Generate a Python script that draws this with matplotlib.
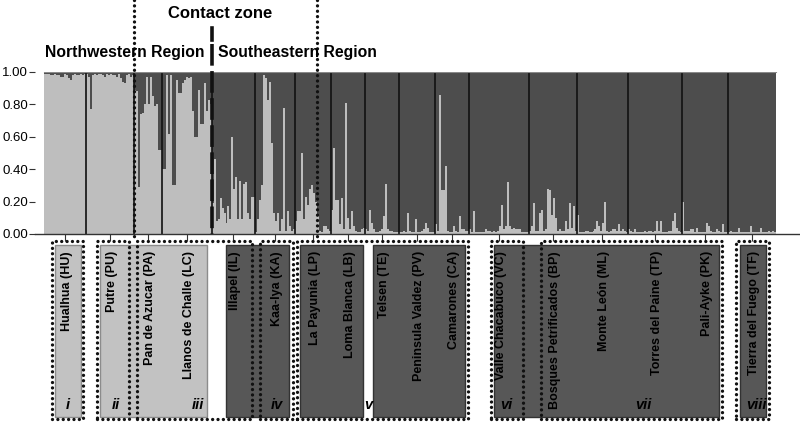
import numpy as np
import matplotlib
matplotlib.use('Agg')
import matplotlib.pyplot as plt
from matplotlib.patches import Rectangle
from matplotlib.lines import Line2D

plt.rcParams['font.family'] = ['Liberation Sans', 'DejaVu Sans']

# population names (left to right)
pops = ['Hualhua (HU)', 'Putre (PU)', 'Pan de Azucar (PA)', 'Llanos de Challe (LC)',
        'Illapel (IL)', 'Kaa-Iya (KA)', 'La Payunia (LP)', 'Loma Blanca (LB)',
        'Telsen (TE)', 'Peninsula Valdez (PV)', 'Camarones (CA)', 'Valle Chacabuco (VC)',
        'Bosques Petrificados (BP)', 'Monte León (ML)', 'Torres del Paine (TP)',
        'Pali-Ayke (PK)', 'Tierra del Fuego (TF)']

# membership in the light-grey cluster, one value per individual
HU = [0.99,0.99,0.99,0.98,0.98,0.99,0.98,0.98,0.97,0.97,0.99,0.98,0.96,0.95,0.98,0.99,0.98,0.98,0.99,0.98,0.99]
PU = [0.99,0.97,0.77,0.98,0.99,0.98,0.99,0.99,0.98,0.97,0.99,0.98,0.99,0.98,0.98,0.97,0.99,0.96,0.94,0.93,0.98,0.99,0.97,0.98]
PA = [0.89,0.88,0.29,0.74,0.75,0.80,0.97,0.80,0.97,0.85,0.79,0.80,0.52,0.52]
LC = [0.40,0.40,0.98,0.62,0.98,0.30,0.30,0.95,0.87,0.87,0.93,0.95,0.97,0.96,0.97,0.76,0.60,0.60,0.89,0.68,0.68,0.93,0.76,0.83,0.80]
IL = [0.19,0.46,0.08,0.09,0.22,0.16,0.13,0.07,0.17,0.09,0.60,0.28,0.35,0.09,0.33,0.09,0.31,0.32,0.13,0.09,0.23,0.23]
KA = [0.01,0.09,0.21,0.30,0.98,0.96,0.83,0.94,0.56,0.13,0.08,0.13,0.02,0.09,0.78,0.02,0.14,0.05,0.02,0.03]
LP = [0.08,0.14,0.14,0.50,0.09,0.23,0.18,0.28,0.30,0.25,0.20,0.12,0.02,0.01,0.05,0.05,0.03,0.02]
LB = [0.15,0.53,0.21,0.21,0.06,0.22,0.03,0.81,0.10,0.03,0.14,0.05,0.02,0.01,0.01,0.03,0.04]
TE = [0.03,0.02,0.15,0.07,0.03,0.01,0.01,0.02,0.03,0.11,0.31,0.03,0.02,0.02,0.01,0.01,0.01]
PV = [0.01,0.01,0.02,0.01,0.13,0.02,0.01,0.01,0.09,0.01,0.01,0.02,0.03,0.07,0.04,0.01,0.01,0.01]
CA = [0.06,0.02,0.86,0.27,0.27,0.42,0.02,0.01,0.01,0.05,0.02,0.01,0.11,0.03,0.03,0.02,0.02]
VC = [0.03,0.01,0.14,0.01,0.01,0.01,0.01,0.01,0.03,0.02,0.02,0.01,0.02,0.01,0.02,0.05,0.18,0.03,0.05,0.32,
      0.05,0.03,0.04,0.03,0.03,0.03,0.01,0.01,0.01,0.01]
BP = [0.02,0.05,0.19,0.02,0.02,0.13,0.15,0.02,0.03,0.28,0.27,0.12,0.22,0.10,0.02,0.03,0.02,0.02,0.08,0.03,0.19,0.04,0.17,0.02]
ML = [0.12,0.01,0.01,0.01,0.02,0.02,0.01,0.01,0.02,0.03,0.08,0.05,0.02,0.07,0.20,0.02,0.01,0.02,0.03,0.03,0.02,0.06,0.02,0.03,0.02,0.01]
TP = [0.03,0.02,0.01,0.03,0.01,0.01,0.01,0.01,0.02,0.01,0.02,0.02,0.01,0.02,0.08,0.02,0.08,0.01,0.01,0.01,0.02,0.02,0.08,0.13,0.04,0.02,0.01]
PK = [0.20,0.02,0.02,0.02,0.03,0.03,0.01,0.04,0.01,0.01,0.01,0.01,0.07,0.05,0.02,0.01,0.01,0.03,0.02,0.01,0.06,0.01,0.01]
TF = [0.01,0.02,0.01,0.01,0.01,0.04,0.01,0.01,0.01,0.01,0.01,0.05,0.01,0.01,0.01,0.01,0.04,0.01,0.01,0.01,0.02,0.01,0.02,0.01]

groups = [HU, PU, PA, LC, IL, KA, LP, LB, TE, PV, CA, VC, BP, ML, TP, PK, TF]
yticks = [0.0, 0.2, 0.4, 0.6, 0.8, 1.0]
numerals = ['i', 'ii', 'iii', 'iv', 'v', 'vi', 'vii', 'viii']

LIGHT = '#bebebe'
DARK = '#4d4d4d'

W, H = 800, 422
fig = plt.figure(figsize=(8, 4.22), dpi=100)

def fx(x):
    return x / W

def fy(y):
    return 1 - y / H

ax = fig.add_axes([fx(35), fy(234), fx(800) - fx(35), fy(72) - fy(234)])

q = np.concatenate([np.array(g) for g in groups])
n = len(q)
xs = np.arange(n)
ax.bar(xs, q, width=1, align='edge', color=LIGHT, linewidth=0, antialiased=False)
ax.bar(xs, 1 - q, bottom=q, width=1, align='edge', color=DARK, linewidth=0, antialiased=False)

sizes = [len(g) for g in groups]
edges = np.concatenate([[0], np.cumsum(sizes)])
centers = (edges[:-1] + edges[1:]) / 2

# scale so that n individuals cover 44..776 px
px_per = (776 - 44) / n
left = -(44 - 35) / px_per
right = left + (800 - 35) / px_per
ax.set_xlim(left, right)
ax.set_ylim(0, 1)

for e in edges[1:-1]:
    ax.axvline(e, color='#111111', lw=1.2)
ax.plot([0, n], [1, 1], color='#8a8a8a', lw=0.8)

for s in ['top', 'right', 'left']:
    ax.spines[s].set_visible(False)
ax.spines['bottom'].set_color('#333333')
ax.spines['bottom'].set_linewidth(1.0)
ax.set_yticks(yticks)
ax.set_yticklabels(['%.2f' % v for v in yticks], fontsize=9.5)
ax.tick_params(axis='y', length=4, width=0.8, color='#333333', pad=1)
ax.set_xticks(centers)
ax.set_xticklabels([])
ax.tick_params(axis='x', length=5, width=0.8, color='#333333')

def xpix(d):
    return 35 + (d - left) * px_per

# region dividers
dotted = (0, (0.01, 1.6))
for d in [edges[2], 137]:
    ax.add_line(Line2D([d, d], [(234 - 0) / 162, (234 - 240) / 162], color='#111111',
                       lw=2.4, linestyle=dotted, dash_capstyle='round', clip_on=False))
d = edges[4]
ax.add_line(Line2D([d, d], [(234 - 44) / 162, 0], color='#111111', lw=2.6,
                   linestyle=(0, (6, 1.5)), clip_on=False))
ax.add_line(Line2D([d, d], [(234 - 28) / 162, (234 - 40) / 162], color='#111111', lw=2.6,
                   clip_on=False))

fig.text(fx(220), fy(13), 'Contact zone', ha='center', va='center', fontsize=12, fontweight='bold')
fig.text(fx(45), fy(53), 'Northwestern Region', ha='left', va='center', fontsize=11.3, fontweight='bold')
fig.text(fx(218), fy(53), 'Southeastern Region', ha='left', va='center', fontsize=11.3, fontweight='bold')

# filled label boxes: x0, x1, colour
boxes = [(55, 81, 'light'), (100, 207, 'light'), (226, 289, 'dark'), (300, 363, 'dark'),
         (373, 465, 'dark'), (494, 719, 'dark'), (740, 766, 'dark')]
for x0, x1, c in boxes:
    fc = '#c2c2c2' if c == 'light' else '#575757'
    ec = '#8c8c8c' if c == 'light' else '#333333'
    fig.add_artist(Rectangle((fx(x0), fy(417)), fx(x1) - fx(x0), fy(245) - fy(417),
                             transform=fig.transFigure, facecolor=fc, edgecolor=ec, lw=1))

# dotted group boxes
gboxes = [(52, 83), (97, 129), (137, 252), (260, 293), (297, 468), (491, 523), (541, 722), (736, 769)]
for x0, x1 in gboxes:
    fig.add_artist(Rectangle((fx(x0), fy(419)), fx(x1) - fx(x0), fy(241) - fy(419),
                             transform=fig.transFigure, facecolor='none', edgecolor='#111111',
                             lw=2.4, linestyle=dotted, capstyle='round'))

for c, name in zip(centers, pops):
    fig.text(fx(xpix(c) + 2), fy(251), name, rotation=90, ha='center', va='top',
             fontsize=9, fontweight='bold', color='black')

num_x = [68, 116, 198, 277, 368, 506, 643, 756]
for x, t in zip(num_x, numerals):
    fig.text(fx(x), fy(405), t, ha='center', va='center', fontsize=10.5,
             fontweight='bold', fontstyle='italic')

fig.savefig('out.png', dpi=100)
